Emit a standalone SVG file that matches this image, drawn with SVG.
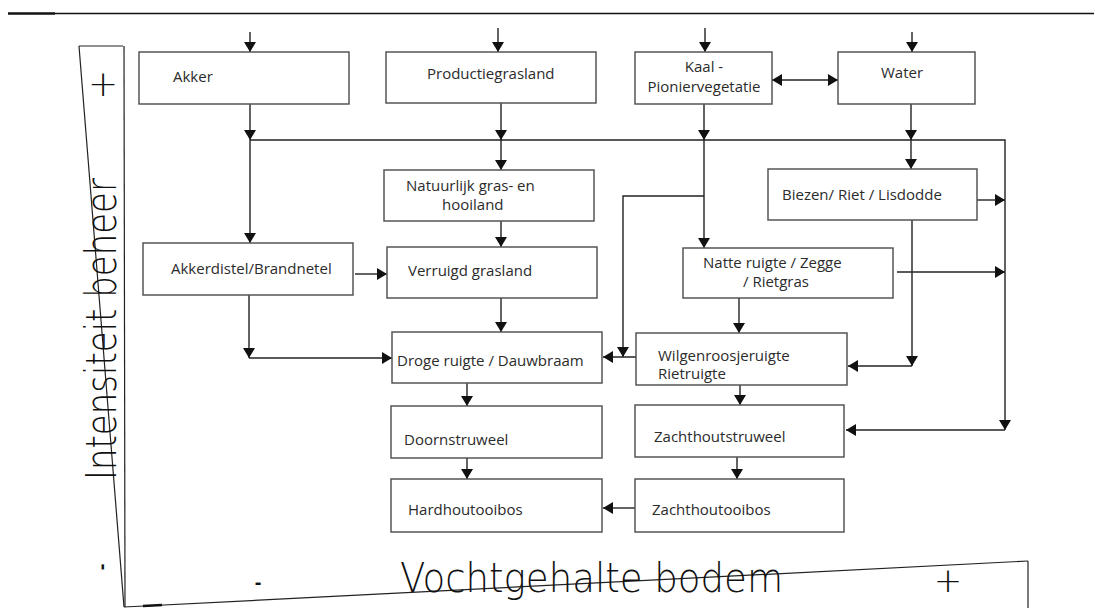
<svg xmlns="http://www.w3.org/2000/svg" width="1095" height="608" viewBox="0 0 1095 608">
<style>
.box{fill:#fff;stroke:#555;stroke-width:1.5}
.lbl{font-family:"Open Sans","Liberation Sans",sans-serif;font-size:15px;fill:#2b2b2b}
.ax{font-family:"DejaVu Sans","Liberation Sans",sans-serif;font-weight:200;fill:#111}
.dash{font-family:"Liberation Sans",Arial,sans-serif;font-weight:700;fill:#111}
.c{fill:none;stroke:#222;stroke-width:1.4}
.axl{fill:none;stroke:#222;stroke-width:1.2}
</style>
<defs>
<marker id="ah" markerUnits="userSpaceOnUse" markerWidth="10" markerHeight="12" refX="10" refY="6" orient="auto-start-reverse" viewBox="0 0 10 12">
<path d="M0,0 L10,6 L0,12 z" fill="#111"/>
</marker>
</defs>
<rect width="1095" height="608" fill="#fff"/>

<g id="frame">
<line x1="8" y1="13.5" x2="55" y2="13.5" stroke="#111" stroke-width="2.6"/>
<line x1="55" y1="13.5" x2="1094" y2="13.5" stroke="#111" stroke-width="1.3"/>
<polyline class="axl" points="79,46 123,46"/>
<line class="axl" x1="79" y1="46" x2="124" y2="607"/>
<line class="axl" x1="124" y1="46" x2="125" y2="607"/>
<line class="axl" x1="124" y1="607" x2="1028" y2="561"/>
<line class="axl" x1="1028" y1="561" x2="1028" y2="608"/>
<line x1="143" y1="606" x2="162" y2="605" stroke="#111" stroke-width="2.5"/>
<text class="ax" x="103" y="96" font-size="36" text-anchor="middle">+</text>
<text class="dash" transform="translate(108,567) rotate(-90)" font-size="20" text-anchor="middle">-</text>
<text class="ax" transform="translate(116,480) rotate(-90)" font-size="42" textLength="302" lengthAdjust="spacingAndGlyphs">Intensiteit beheer</text>
<text class="dash" x="258" y="589" font-size="20" text-anchor="middle">-</text>
<text class="ax" x="400" y="592" font-size="41" textLength="383" lengthAdjust="spacingAndGlyphs">Vochtgehalte bodem</text>
<text class="ax" x="948" y="592" font-size="34" text-anchor="middle">+</text>
</g>

<g id="connectors">
<line class="c" x1="250" y1="32" x2="250" y2="52" marker-end="url(#ah)"/>
<line class="c" x1="498" y1="28" x2="498" y2="52" marker-end="url(#ah)"/>
<line class="c" x1="705" y1="28" x2="705" y2="52" marker-end="url(#ah)"/>
<line class="c" x1="912" y1="32" x2="912" y2="52" marker-end="url(#ah)"/>
<line class="c" x1="772" y1="80" x2="838" y2="80" marker-start="url(#ah)" marker-end="url(#ah)"/>
<line class="c" x1="250" y1="104" x2="250" y2="140" marker-end="url(#ah)"/>
<line class="c" x1="250" y1="140" x2="250" y2="243" marker-end="url(#ah)"/>
<polyline class="c" points="250,140 1005,140 1005,430" marker-end="url(#ah)"/>
<line class="c" x1="1005" y1="430" x2="846" y2="430" marker-end="url(#ah)"/>
<line class="c" x1="501" y1="103" x2="501" y2="140" marker-end="url(#ah)"/>
<line class="c" x1="501" y1="140" x2="501" y2="170" marker-end="url(#ah)"/>
<line class="c" x1="704" y1="104" x2="704" y2="140" marker-end="url(#ah)"/>
<line class="c" x1="704" y1="140" x2="704" y2="248" marker-end="url(#ah)"/>
<polyline class="c" points="704,196 623,196 623,357" marker-end="url(#ah)"/>
<line class="c" x1="911" y1="104" x2="911" y2="140" marker-end="url(#ah)"/>
<line class="c" x1="911" y1="140" x2="911" y2="169" marker-end="url(#ah)"/>
<line class="c" x1="977" y1="200" x2="1005" y2="200" marker-end="url(#ah)"/>
<line class="c" x1="912" y1="220" x2="912" y2="366" marker-end="url(#ah)"/>
<line class="c" x1="912" y1="366" x2="848" y2="366" marker-end="url(#ah)"/>
<line class="c" x1="897" y1="272" x2="1005" y2="272" marker-end="url(#ah)"/>
<line class="c" x1="739" y1="298" x2="739" y2="333" marker-end="url(#ah)"/>
<line class="c" x1="636" y1="357" x2="603" y2="357" marker-end="url(#ah)"/>
<line class="c" x1="740" y1="385" x2="740" y2="405" marker-end="url(#ah)"/>
<line class="c" x1="737" y1="457" x2="737" y2="479" marker-end="url(#ah)"/>
<line class="c" x1="635" y1="508" x2="603" y2="508" marker-end="url(#ah)"/>
<line class="c" x1="355" y1="274" x2="387" y2="274" marker-end="url(#ah)"/>
<line class="c" x1="249" y1="295" x2="249" y2="358" marker-end="url(#ah)"/>
<line class="c" x1="249" y1="358" x2="392" y2="358" marker-end="url(#ah)"/>
<line class="c" x1="501" y1="221" x2="501" y2="247" marker-end="url(#ah)"/>
<line class="c" x1="501" y1="298" x2="501" y2="332" marker-end="url(#ah)"/>
<line class="c" x1="467" y1="383" x2="467" y2="406" marker-end="url(#ah)"/>
<line class="c" x1="467" y1="458" x2="467" y2="479" marker-end="url(#ah)"/>
</g>

<g id="akker"><rect class="box" x="139" y="52" width="210" height="52"/><text class="lbl" x="173" y="82">Akker</text></g>
<g id="productiegrasland"><rect class="box" x="386" y="52" width="210" height="51"/><text class="lbl" x="427" y="79">Productiegrasland</text></g>
<g id="kaal"><rect class="box" x="635" y="52" width="137" height="52"/><text class="lbl" x="704" y="72" text-anchor="middle">Kaal -</text><text class="lbl" x="704" y="92" text-anchor="middle">Pioniervegetatie</text></g>
<g id="water"><rect class="box" x="838" y="52" width="137" height="52"/><text class="lbl" x="881" y="78">Water</text></g>
<g id="natuurlijk"><rect class="box" x="384" y="170" width="210" height="51"/><text class="lbl" x="406" y="191">Natuurlijk gras- en</text><text class="lbl" x="442" y="210">hooiland</text></g>
<g id="biezen"><rect class="box" x="768" y="169" width="209" height="51"/><text class="lbl" x="782" y="200">Biezen/ Riet / Lisdodde</text></g>
<g id="akkerdistel"><rect class="box" x="143" y="243" width="210" height="52"/><text class="lbl" x="171" y="274">Akkerdistel/Brandnetel</text></g>
<g id="verruigd"><rect class="box" x="387" y="247" width="210" height="51"/><text class="lbl" x="408" y="276">Verruigd grasland</text></g>
<g id="natte"><rect class="box" x="683" y="248" width="210" height="50"/><text class="lbl" x="703" y="268">Natte ruigte / Zegge</text><text class="lbl" x="743" y="287">/ Rietgras</text></g>
<g id="droge"><rect class="box" x="392" y="332" width="210" height="51"/><text class="lbl" x="397" y="366">Droge ruigte / Dauwbraam</text></g>
<g id="wilgen"><rect class="box" x="636" y="333" width="211" height="52"/><text class="lbl" x="658" y="361">Wilgenroosjeruigte</text><text class="lbl" x="658" y="379">Rietruigte</text></g>
<g id="doorn"><rect class="box" x="391" y="406" width="211" height="52"/><text class="lbl" x="404" y="445">Doornstruweel</text></g>
<g id="zachtstruweel"><rect class="box" x="635" y="405" width="209" height="52"/><text class="lbl" x="654" y="442">Zachthoutstruweel</text></g>
<g id="hardhout"><rect class="box" x="391" y="479" width="211" height="53"/><text class="lbl" x="408" y="515">Hardhoutooibos</text></g>
<g id="zachthoutooibos"><rect class="box" x="635" y="479" width="209" height="53"/><text class="lbl" x="652" y="515">Zachthoutooibos</text></g>
</svg>
